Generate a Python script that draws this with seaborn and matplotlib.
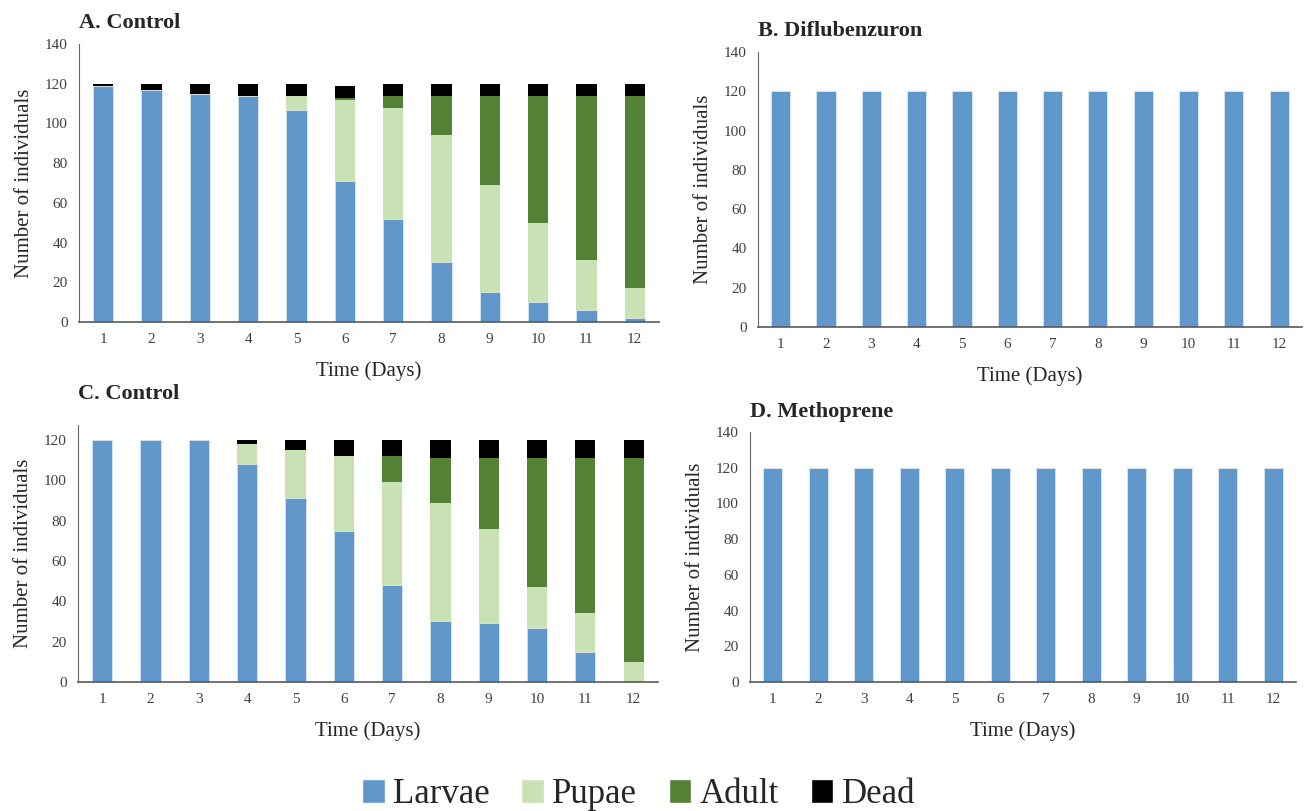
import pandas as pd
import matplotlib.pyplot as plt
import seaborn as sns
from matplotlib.patches import Patch

# Data
days = [1, 2, 3, 4, 5, 6, 7, 8, 9, 10, 11, 12]

a_larvae = [119, 117, 115, 114, 107, 71, 52, 30, 15, 10, 6, 2]
a_pupae = [0, 0, 0, 0, 7, 41, 56, 64, 54, 40, 25, 15]
a_adult = [0, 0, 0, 0, 0, 1, 6, 20, 45, 64, 83, 97]
a_dead = [1, 3, 5, 6, 6, 6, 6, 6, 6, 6, 6, 6]

b_larvae = [120] * 12

c_larvae = [120, 120, 120, 108, 91, 75, 48, 30, 29, 27, 15, 0]
c_pupae = [0, 0, 0, 10, 24, 37, 51, 59, 47, 20, 19, 10]
c_adult = [0, 0, 0, 0, 0, 0, 13, 22, 35, 64, 77, 101]
c_dead = [0, 0, 0, 2, 5, 8, 8, 9, 9, 9, 9, 9]

d_larvae = [120] * 12

stages = ['Larvae', 'Pupae', 'Adult', 'Dead']
colors = {'Larvae': '#6198CB', 'Pupae': '#C8E2B4', 'Adult': '#548235', 'Dead': '#000000'}

sns.set_style("white")
plt.rcParams['font.family'] = ['Liberation Serif', 'DejaVu Serif']

fig = plt.figure(figsize=(13.06, 8.11), dpi=100)

panels = [
    ('A. Control', [a_larvae, a_pupae, a_adult, a_dead], [0.0605, 0.603, 0.444, 0.3427], 140),
    ('B. Diflubenzuron', [b_larvae], [0.5804, 0.5968, 0.4165, 0.339], 140),
    ('C. Control', [c_larvae, c_pupae, c_adult, c_dead], [0.0597, 0.1591, 0.444, 0.317], 127.5),
    ('D. Methoprene', [d_larvae], [0.5743, 0.1591, 0.418, 0.3082], 140),
]

for title, layers, rect, ymax in panels:
    ax = fig.add_axes(rect)
    df = pd.DataFrame({'Day': days})
    for name, vals in zip(stages, layers):
        df[name] = vals
    used = stages[:len(layers)]
    # cumulative totals, drawn from the top layer down so the stacks show
    cum = df[used].cumsum(axis=1)
    for name in reversed(used):
        sns.barplot(x=df['Day'], y=cum[name], color=colors[name], width=0.42,
                    saturation=1, edgecolor='#dbe7f3' if name == 'Larvae' else 'none',
                    linewidth=0.6, ax=ax)
    ax.set_ylim(0, ymax)
    ax.set_xlim(-0.5, 11.5)
    ax.set_yticks(range(0, int(ymax) + 1, 20))
    ax.tick_params(axis='both', labelsize=11, colors='#404040', length=0, pad=8)
    ax.set_xlabel('Time (Days)', fontsize=15, labelpad=11)
    ax.set_ylabel('Number of individuals', fontsize=15, labelpad=8)
    sns.despine(ax=ax)
    ax.spines['left'].set_color('#666666')
    ax.spines['bottom'].set_color('#595959')
    ax.spines['bottom'].set_linewidth(1.2)
    ax.text(0.0, 1.04 if ymax == 140 else 1.08, title, transform=ax.transAxes,
            fontsize=16, fontweight='bold', ha='left', va='bottom')

handles = [Patch(facecolor=colors[s], label=s) for s in stages]
fig.legend(handles=handles, loc='center', bbox_to_anchor=(0.489, 0.02), ncol=4,
           frameon=False, fontsize=25, handlelength=0.65, handleheight=0.65,
           handletextpad=0.25, columnspacing=0.9)

plt.savefig('out.png', dpi=100)
